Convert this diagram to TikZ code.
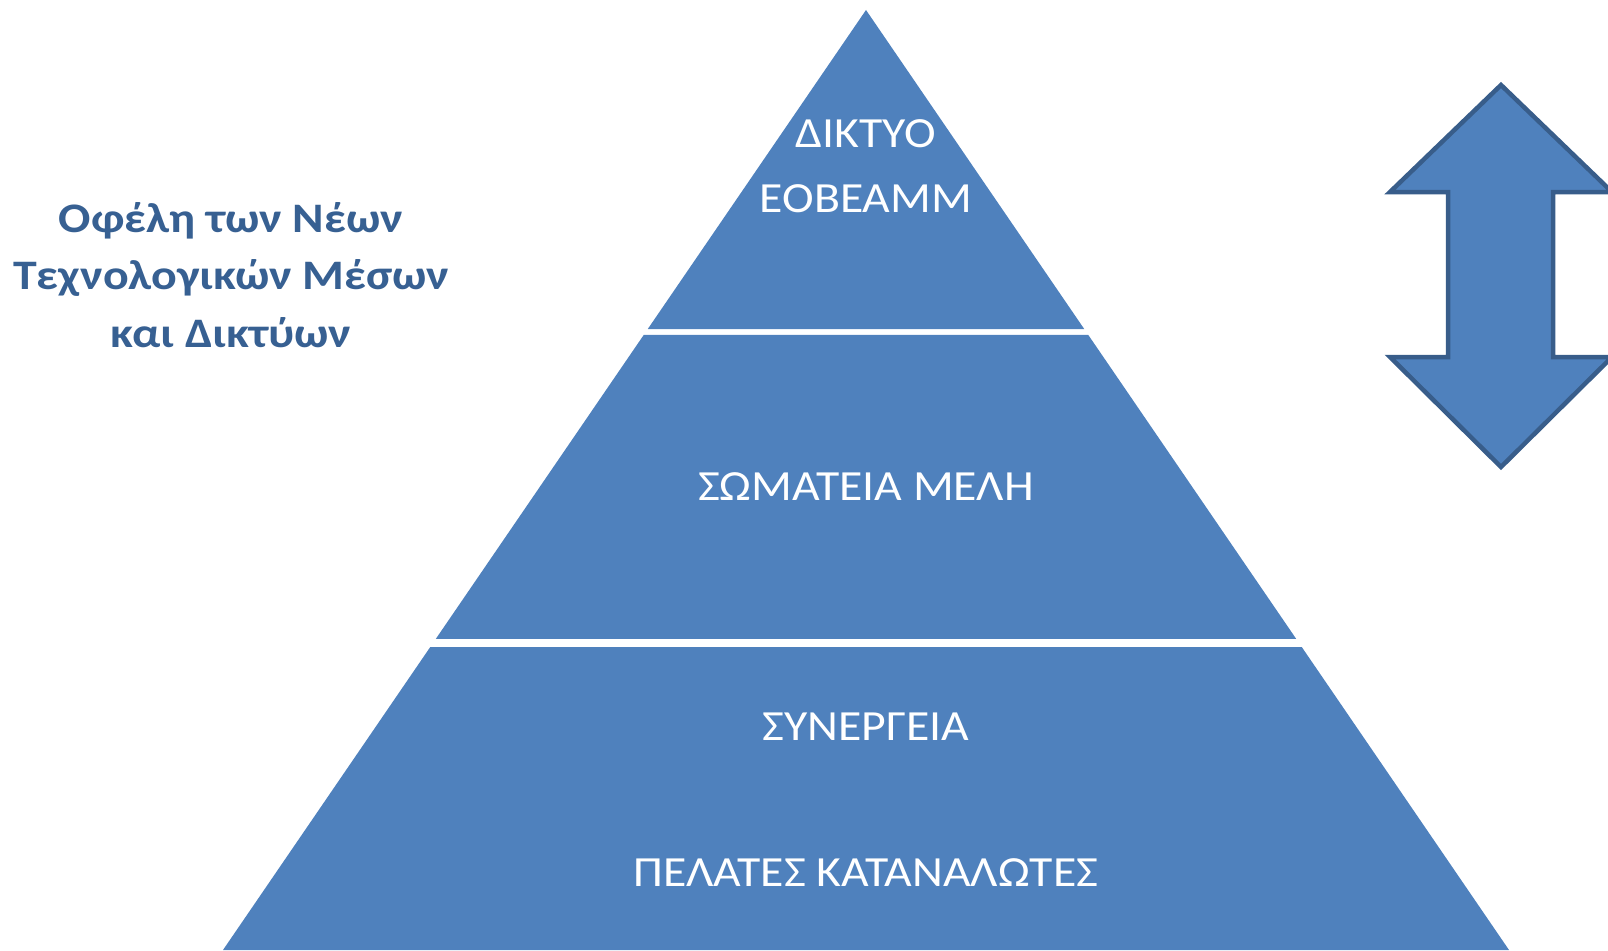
\documentclass[tikz,border=0pt]{standalone}
\usepackage{fontspec}
\setmainfont{Carlito}
\newfontfamily\widefont[FakeStretch=1.11]{Carlito}
\newfontfamily\wideheadfont[FakeStretch=1.14]{Carlito}
\usetikzlibrary{calc}

\definecolor{tierblue}{HTML}{4F81BD}
\definecolor{arrowline}{HTML}{385D8A}
\definecolor{titleblue}{HTML}{376092}

\begin{document}
\begin{tikzpicture}[x=1pt,y=-1pt,
    tier/.style={fill=tierblue},
    tiertext/.style={text=white, anchor=base, inner sep=0pt,
      font=\widefont\fontsize{43}{50}\selectfont},
    headline/.style={text=titleblue, align=center, inner sep=0pt,
      font=\wideheadfont\bfseries\fontsize{42}{57.5}\selectfont},
    updown/.style={fill=tierblue, draw=arrowline, line width=4.5pt}
  ]
  \useasboundingbox (0,0) rectangle (1608,950);
  \clip (0,0) rectangle (1608,950);

  % pyramid outline points
  \coordinate (apex) at (866,10);
  \coordinate (bl) at (223,950);
  \coordinate (br) at (1509,950);

  % three tiers
  \fill[tier] (apex) -- ($(apex)!0.3394!(bl)$) -- ($(apex)!0.3394!(br)$) -- cycle;
  \fill[tier] ($(apex)!0.3457!(bl)$) -- ($(apex)!0.6691!(bl)$)
    -- ($(apex)!0.6691!(br)$) -- ($(apex)!0.3457!(br)$) -- cycle;
  \fill[tier] ($(apex)!0.6777!(bl)$) -- (bl) -- (br) -- ($(apex)!0.6777!(br)$) -- cycle;

  % tier labels
  \node[tiertext] (network) at (866,147) {ΔΙΚΤΥΟ};
  \node[tiertext] (eobeamm) at (866,212) {ΕΟΒΕΑΜΜ};
  \node[tiertext] (members) at (866,500) {ΣΩΜΑΤΕΙΑ ΜΕΛΗ};
  \node[tiertext] (workshops) at (866,740) {ΣΥΝΕΡΓΕΙΑ};
  \node[tiertext] (clients) at (866,886) {ΠΕΛΑΤΕΣ ΚΑΤΑΝΑΛΩΤΕΣ};

  % heading on the left
  \node[headline] (benefits) at (231,275)
    {Οφέλη των Νέων\\Τεχνολογικών Μέσων\\και Δικτύων};

  % double arrow on the right
  \draw[updown] (1501,85) -- (1612,192) -- (1553,192) -- (1553,357)
    -- (1612,357) -- (1501,467) -- (1390,357) -- (1448,357)
    -- (1448,192) -- (1390,192) -- cycle;
\end{tikzpicture}
\end{document}
